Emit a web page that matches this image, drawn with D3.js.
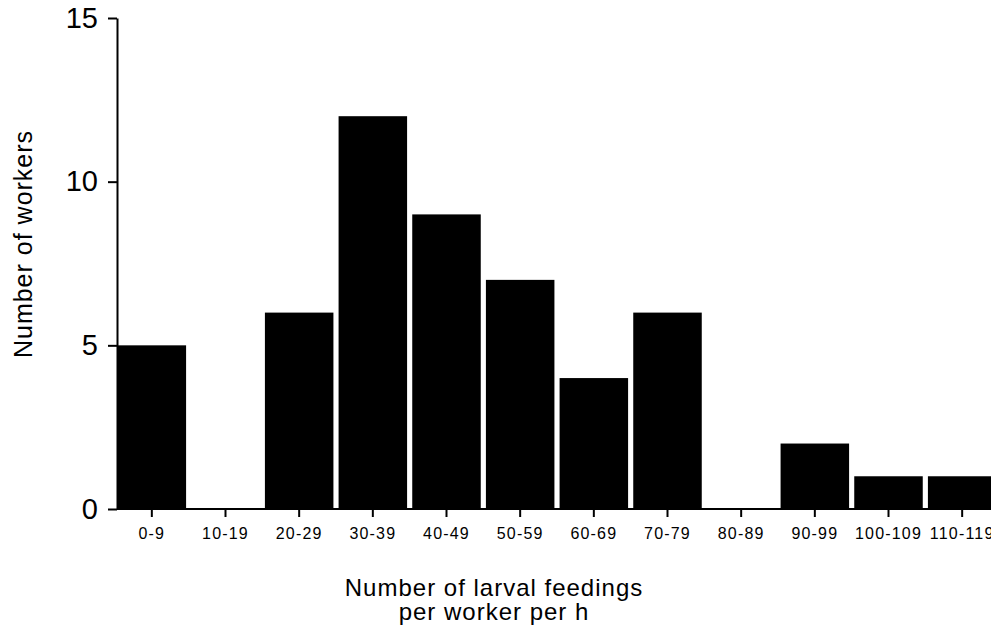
<!DOCTYPE html>
<html>
<head>
<meta charset="utf-8">
<script src="https://cdn.jsdelivr.net/npm/d3@7"></script>
<style>
  body { margin: 0; background: #fff; }
  svg { display: block; font-family: "Liberation Sans", Arial, sans-serif; }
</style>
</head>
<body>
<div id="chart"></div>
<script>
// histogram of larval feedings per worker per hour
const classes = ["0-9", "10-19", "20-29", "30-39", "40-49", "50-59", "60-69", "70-79", "80-89", "90-99", "100-109", "110-119"];
const workers = [5, 0, 6, 12, 9, 7, 4, 6, 0, 2, 1, 1];
const yTicks = [0, 5, 10, 15];

const width = 991, height = 629;
const svg = d3.select("#chart")
    .append("svg")
        .attr("width", width)
        .attr("height", height);

// scales
let x = d3.scaleBand()
    .domain(classes)
    .range([115, 999])
    .paddingInner(0.07)
    .paddingOuter(0.035);
let y = d3.scaleLinear()
    .domain([0, 15])
    .range([509, 18]);

// bars
svg.selectAll(".bar")
    .data(workers)
    .enter()
    .append("rect")
        .attr("class", "bar")
        .attr("x", (d, i) => x(classes[i]))
        .attr("y", d => y(d))
        .attr("width", x.bandwidth())
        .attr("height", d => y(0) - y(d))
        .style("fill", "#000");

// y axis
let gY = svg.append("g")
    .attr("transform", "translate(117,0)")
    .call(d3.axisLeft(y).tickValues(yTicks).tickSize(9).tickSizeOuter(0).tickPadding(10));
gY.select(".domain").attr("stroke-width", 2);
gY.selectAll(".tick line").attr("stroke-width", 2);
gY.selectAll("text")
    .attr("font-size", 29)
    .attr("font-family", "Liberation Sans, Arial, sans-serif")
    .attr("fill", "#000");

// x axis
let gX = svg.append("g")
    .attr("transform", "translate(0,509)")
    .call(d3.axisBottom(x).tickSize(8).tickSizeOuter(0).tickPadding(11));
gX.select(".domain").attr("d", "M117,0H" + width).attr("stroke-width", 2);
gX.selectAll(".tick line").attr("stroke-width", 2);
gX.selectAll("text")
    .attr("font-size", 16)
    .attr("letter-spacing", "1.2px")
    .attr("font-family", "Liberation Sans, Arial, sans-serif")
    .attr("fill", "#000");

// axis titles
svg.append("text")
    .attr("transform", "translate(32,244) rotate(-90)")
    .attr("text-anchor", "middle")
    .attr("font-size", 25)
    .attr("letter-spacing", "1px")
    .text("Number of workers");

svg.append("text")
    .attr("x", 494)
    .attr("y", 596)
    .attr("text-anchor", "middle")
    .attr("font-size", 24)
    .attr("letter-spacing", "1px")
    .text("Number of larval feedings");
svg.append("text")
    .attr("x", 494)
    .attr("y", 620)
    .attr("text-anchor", "middle")
    .attr("font-size", 24)
    .attr("letter-spacing", "1px")
    .text("per worker per h");
</script>
</body>
</html>
